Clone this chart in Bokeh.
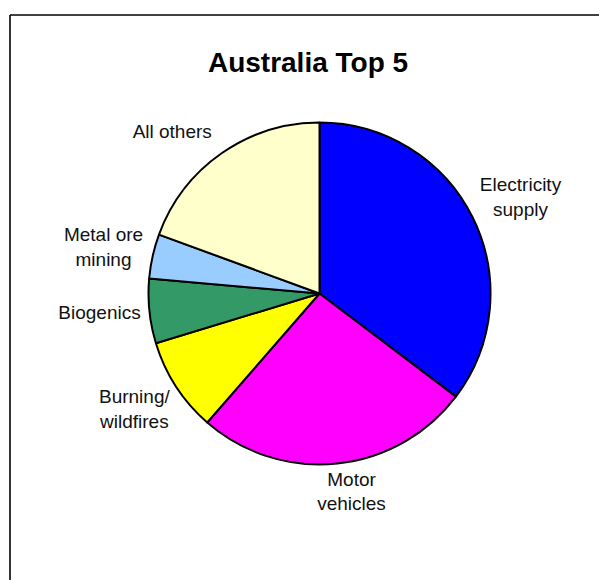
import numpy as np
from bokeh.plotting import figure
from bokeh.models import Range1d, ColumnDataSource
from bokeh.core.properties import value
from bokeh.embed import file_html
from bokeh.resources import INLINE

# ---- data ----
categories = ["Electricity supply", "Motor vehicles", "Burning/wildfires",
              "Biogenics", "Metal ore mining", "All others"]
shares = [35.3, 26.1, 8.9, 6.1, 4.2, 19.4]
colors = ["#0000FF", "#FF00FF", "#FFFF00", "#339966", "#99CCFF", "#FFFFCC"]
label_texts = ["Electricity\nsupply", "Motor\nvehicles", "Burning/\nwildfires",
               "Biogenics", "Metal ore\nmining", "All others"]
title_text = "Australia Top 5"

# ---- layout (page pixels) ----
W, H = 599, 580          # figure size (page has no margin with bokeh's template)
OX, OY = 0, 0            # figure origin on page
CX, CY, R = 319, 293, 171  # pie centre and radius on the page
LABEL_R = 1.29
# pixel nudges (x right, y up) relative to radial label position
label_nudge_px = [(3.5, -1.8), (9.2, 21.4), (0.0, 4.4), (-0.6, 4.3), (-0.7, -1.6), (-21.0, -18.4)]

def px_x(x):
    return (x - CX) / R

def px_y(y):
    return (CY - y) / R

p = figure(width=W, height=H, output_backend="svg", toolbar_location=None,
           x_range=Range1d(px_x(OX), px_x(OX + W)),
           y_range=Range1d(px_y(OY + H), px_y(OY)),
           min_border=0, outline_line_color=None,
           background_fill_color=None, border_fill_color=None)
p.axis.visible = False
p.grid.visible = False

# frame (left and top edges of the chart area; the rest lies outside the window)
p.segment(x0=[px_x(9.5), px_x(9.5)], y0=[px_y(OY + H), px_y(14.5)],
          x1=[px_x(9.5), px_x(OX + W)], y1=[px_y(14.5), px_y(14.5)],
          line_color="black", line_width=1.6)

frac = np.array(shares) / np.sum(shares)
cum = np.cumsum(frac)
prev = np.concatenate([[0.0], cum[:-1]])
start = np.pi / 2 - 2 * np.pi * prev
end = np.pi / 2 - 2 * np.pi * cum
mid = (start + end) / 2

src = ColumnDataSource(dict(cat=categories, start=start, end=end, color=colors))
p.wedge(x=0, y=0, radius=1, start_angle="start", end_angle="end", direction="clock",
        fill_color="color", line_color="black", line_width=2, source=src)

lx = LABEL_R * np.cos(mid) + np.array([n[0] for n in label_nudge_px]) / R
ly = LABEL_R * np.sin(mid) + np.array([n[1] for n in label_nudge_px]) / R
lsrc = ColumnDataSource(dict(x=lx, y=ly, text=label_texts))
p.text(x="x", y="y", text="text", source=lsrc, text_align="center", text_baseline="middle",
       text_font=value("Liberation Sans"), text_font_size="19px", text_color="#111111",
       text_line_height=1.15)

p.text(x=[px_x(307.5)], y=[px_y(62)], text=[title_text], text_align="center",
       text_baseline="alphabetic", text_font=value("Liberation Sans"),
       text_font_size="28px", text_font_style="bold", text_color="black")

open("out.html", "w").write(file_html(p, INLINE))
